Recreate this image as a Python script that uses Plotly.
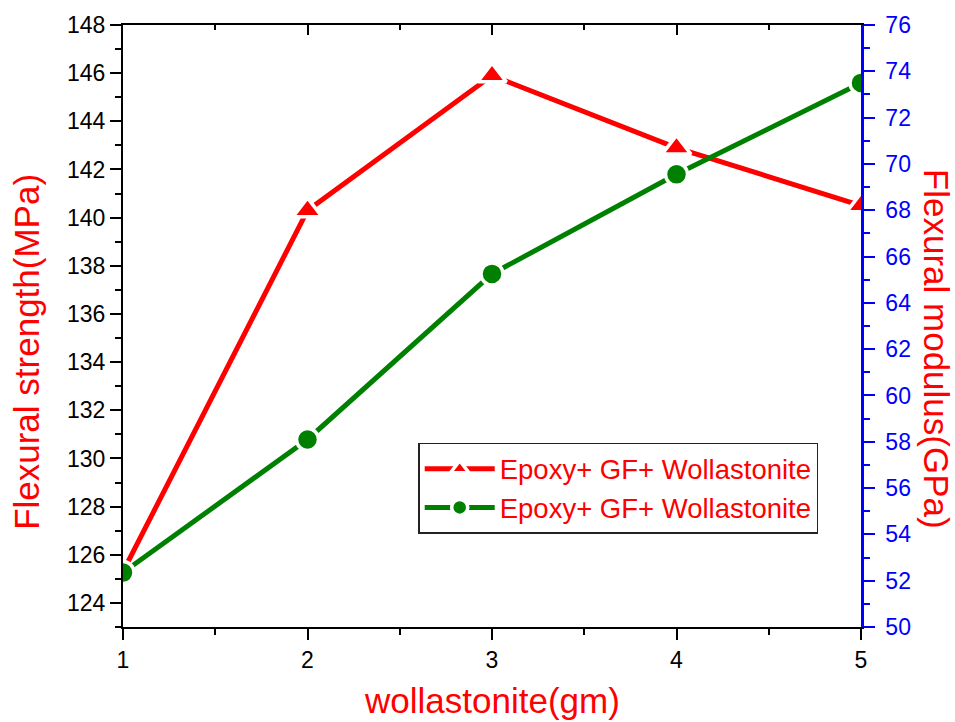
import plotly.graph_objects as go

# Data
wollastonite = [1, 2, 3, 4, 5]
flex_strength = [125.3, 140.3, 145.9, 142.9, 140.5]   # MPa (left axis)
flex_modulus = [52.35, 58.1, 65.25, 69.55, 73.5]     # GPa (right axis)
series_name = "Epoxy+ GF+ Wollastonite"

FONT = "Liberation Sans, Arial, sans-serif"
W, H = 955, 722

fig = go.Figure()

fig.add_trace(go.Scatter(
    x=wollastonite, y=flex_strength, name=series_name,
    mode="lines+markers", xaxis="x", yaxis="y",
    line=dict(color="#ff0000", width=5),
    marker=dict(symbol="triangle-up", size=25, color="#ff0000",
                line=dict(color="white", width=3.5)),
))
fig.add_trace(go.Scatter(
    x=wollastonite, y=flex_modulus, name=series_name,
    mode="lines+markers", xaxis="x", yaxis="y2",
    line=dict(color="#008000", width=5),
    marker=dict(symbol="circle", size=22, color="#008000",
                line=dict(color="white", width=3.5)),
))
# invisible helper trace so the top (mirror) axis is drawn with inward ticks
fig.add_trace(go.Scatter(
    x=wollastonite, y=flex_strength, xaxis="x2", yaxis="y",
    mode="markers", marker=dict(opacity=0), showlegend=False, hoverinfo="skip",
))

tickfont = dict(family=FONT, size=23, color="black")

fig.update_layout(
    width=W, height=H,
    margin=dict(l=123, r=94, t=25, b=95, pad=0),
    paper_bgcolor="white", plot_bgcolor="white",
    font=dict(family=FONT),
    showlegend=True,
    legend=dict(
        x=0.4, y=0.306, xanchor="left", yanchor="top",
        bgcolor="white", bordercolor="#222222", borderwidth=1.5,
        font=dict(family=FONT, size=27.5, color="#ff0000"),
        tracegroupgap=0, itemwidth=70,
    ),
    xaxis=dict(
        range=[1, 5], tickmode="linear", tick0=1, dtick=1,
        ticks="outside", ticklen=11, tickwidth=2, tickcolor="black",
        showline=True, linecolor="black", linewidth=2,
        showgrid=False, zeroline=False, tickfont=tickfont,
        minor=dict(ticks="outside", dtick=0.5, ticklen=6, tickwidth=2, tickcolor="black", showgrid=False),
        ticklabelstandoff=0,
    ),
    xaxis2=dict(
        range=[1, 5], overlaying="x", side="top", tickmode="linear", tick0=1, dtick=1,
        ticks="inside", ticklen=10, tickwidth=2, tickcolor="black",
        showline=True, linecolor="black", linewidth=2,
        showgrid=False, zeroline=False, showticklabels=False,
        minor=dict(ticks="inside", dtick=0.5, ticklen=5, tickwidth=2, tickcolor="black", showgrid=False),
    ),
    yaxis=dict(
        range=[123, 148], tickmode="linear", tick0=124, dtick=2,
        ticks="outside", ticklen=11, tickwidth=2, tickcolor="black",
        showline=True, linecolor="black", linewidth=2,
        showgrid=False, zeroline=False, tickfont=tickfont,
        minor=dict(ticks="outside", dtick=1, tick0=123, ticklen=6, tickwidth=2, tickcolor="black", showgrid=False),
        ticklabelstandoff=0,
    ),
    yaxis2=dict(
        range=[50, 76], overlaying="y", side="right", tickmode="linear", tick0=50, dtick=2,
        ticks="outside", ticklen=11, tickwidth=2, tickcolor="#0000ff",
        showline=True, linecolor="#0000ff", linewidth=2.5,
        showgrid=False, zeroline=False,
        tickfont=dict(family=FONT, size=23, color="#0000ff"),
        minor=dict(ticks="outside", dtick=1, ticklen=6, tickwidth=2, tickcolor="#0000ff", showgrid=False),
        ticklabelstandoff=6,
    ),
    annotations=[
        dict(text="wollastonite(gm)", xref="paper", yref="paper",
             x=0.5, y=-0.1215, xanchor="center", yanchor="middle", showarrow=False,
             font=dict(family=FONT, size=35, color="#ff0000")),
        dict(text="Flexural strength(MPa)", xref="paper", yref="paper",
             x=-0.1301, y=0.457, xanchor="center", yanchor="middle", showarrow=False,
             textangle=-90, font=dict(family=FONT, size=35, color="#ff0000")),
        dict(text="Flexural modulus(GPa)", xref="paper", yref="paper",
             x=1.1017, y=0.462, xanchor="center", yanchor="middle", showarrow=False,
             textangle=90, font=dict(family=FONT, size=35, color="#ff0000")),
    ],
)

fig.write_html("out.html")
